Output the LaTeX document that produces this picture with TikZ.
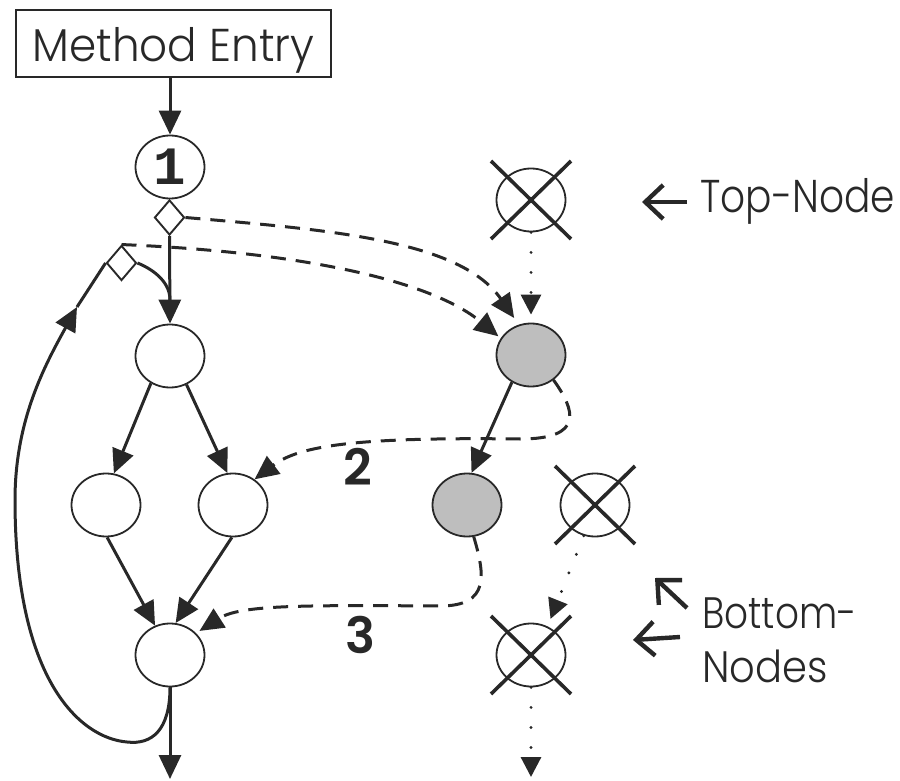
\documentclass[tikz,border=0pt]{standalone}
\usepackage{fontspec}
\setmainfont{Poppins}[UprightFont=* Light,BoldFont=* SemiBold]
\newfontfamily\monofont{Liberation Mono}
\usetikzlibrary{shapes.geometric,arrows.meta}

\definecolor{ink}{RGB}{40,40,40}
\definecolor{shade}{RGB}{190,190,190}

\newcommand{\narrow}[2][0.88]{\scalebox{#1}[1]{#2}}

\begin{document}
\begin{tikzpicture}[x=1pt,y=-1pt,
  every node/.style={inner sep=0pt},
  blk/.style={ellipse,draw=ink,line width=1.8pt,fill=white,minimum width=69pt,minimum height=63pt},
  liveblk/.style={blk,fill=shade},
  branchpt/.style={diamond,draw=ink,line width=1.9pt,fill=white,minimum width=30pt,minimum height=35pt},
  plainline/.style={draw=ink,line width=3pt},
  edgeflow/.style={plainline,-{Triangle[length=24pt,width=22pt]}},
  edgejump/.style={edgeflow,dash pattern=on 15pt off 10pt},
  edgeskip/.style={draw=ink,line width=3.2pt,line cap=round,dash pattern=on 0pt off 20pt,-{Triangle[length=20pt,width=20pt]}},
  xstroke/.style={draw=ink,line width=3.6pt},
  ptr/.style={draw=ink,line width=4.4pt,-{Straight Barb[length=18pt,width=34pt]}},
  lbltxt/.style={font=\fontsize{46}{50}\selectfont,text=ink},
  numtxt/.style={font=\fontsize{50}{54}\selectfont\bfseries,text=ink},
]
\useasboundingbox (0,0) rectangle (900,781);

% entry box and the method's blocks
\node[draw=ink,line width=2pt,minimum width=315pt,minimum height=67pt,
      text height=37pt,text depth=0pt,lbltxt] (entry) at (173.5,43.5) {\narrow[0.95]{Method Entry}};
\node[blk,font=\fontsize{54}{56}\selectfont\monofont\bfseries,text=ink] (n1) at (170,167) {1};
\node[branchpt] (d1) at (169.5,217.5) {};
\node[branchpt] (d2) at (121.5,263) {};
\node[blk] (nA) at (170,356) {};
\node[blk] (nB) at (106,505) {};
\node[blk] (nC) at (233,505) {};
\node[blk] (nD) at (170,655) {};

% summary nodes
\node[blk] (T) at (531,200) {};
\node[liveblk] (G1) at (531,355) {};
\node[liveblk] (G2) at (467,505) {};
\node[blk] (X2) at (595,505) {};
\node[blk] (X3) at (531,655) {};

% crossed-out nodes
\foreach \n in {T,X2,X3}{
  \draw[xstroke] ([shift={(-40,-39)}]\n.center) -- ([shift={(40,39)}]\n.center);
  \draw[xstroke] ([shift={(40,-39)}]\n.center) -- ([shift={(-40,39)}]\n.center);
}

% control flow
\coordinate (j1) at (170,300);
\coordinate (loopTip) at (77,307);
\coordinate (exitA) at (170,779);
\draw[edgeflow] (n1|-entry.south) -- (n1);
\draw[edgeflow] (d1.south) -- (nA.north);
\draw[plainline] (d2.east) .. controls (150,268) and (170,280) .. (j1);
\draw[edgeflow] (nA.-125) -- (nB.76);
\draw[edgeflow] (nA.-60) -- (nC.100);
\draw[edgeflow] (nB.-88) -- (nD.117);
\draw[edgeflow] (nC.-92) -- (nD.80);
\draw[edgeflow] (nD.south) -- (exitA);
\draw[edgeflow] (nD.south) .. controls (170,730) and (152,745) .. (127,742)
  .. controls (80,738) and (15,680) .. (15,500)
  .. controls (15,420) and (45,365) .. (loopTip);
\draw[plainline] (loopTip) -- (d2.west);

% jumps into the summary
\draw[edgejump,shorten >=8pt] (d1.east) .. controls (330,230) and (460,240) .. (G1.112);
\draw[edgejump,shorten >=3pt] (d2.north) .. controls (300,252) and (430,280) .. (G1.151);
\draw[edgeflow] (G1.-125) -- (G2.82);
\draw[edgejump] (G1.-48) .. controls (575,410) and (585,439) .. (520,439)
  .. controls (360,437) and (300,445) .. (nC.50);
\draw[edgejump,shorten >=4pt] (G2.-78) .. controls (485,575) and (490,606) .. (440,606)
  .. controls (300,605) and (240,605) .. (nD.40);

% dotted summary links
\coordinate (exitB) at (531,777);
\draw[edgeskip,shorten >=8pt] (T.south) -- (G1.north);
\draw[edgeskip,shorten >=8pt] (X2.-110) -- (X3.60);
\draw[edgeskip] (X3.south) -- (exitB);

% labels
\node[numtxt,anchor=base west] (lab2) at (343,485) {2};
\node[numtxt,anchor=base west] (lab3) at (345,653) {3};
\node[lbltxt,anchor=base west] (topl) at (700,212) {\narrow[0.85]{Top-Node}};
\node[lbltxt,font=\fontsize{44}{50}\selectfont,anchor=base west] (botl1) at (702,628) {\narrow[0.85]{Bottom-}};
\node[lbltxt,font=\fontsize{44}{50}\selectfont,anchor=base west] (botl2) at (702,682) {\narrow[0.91]{Nodes}};
\coordinate (p1s) at (687,202);
\coordinate (p1e) at (642,202);
\coordinate (p2s) at (687,608);
\coordinate (p2e) at (655,578);
\coordinate (p3s) at (680,637);
\coordinate (p3e) at (633,640);
\draw[ptr] (p1s) -- (p1e);
\draw[ptr] (p2s) -- (p2e);
\draw[ptr] (p3s) -- (p3e);
\end{tikzpicture}
\end{document}
